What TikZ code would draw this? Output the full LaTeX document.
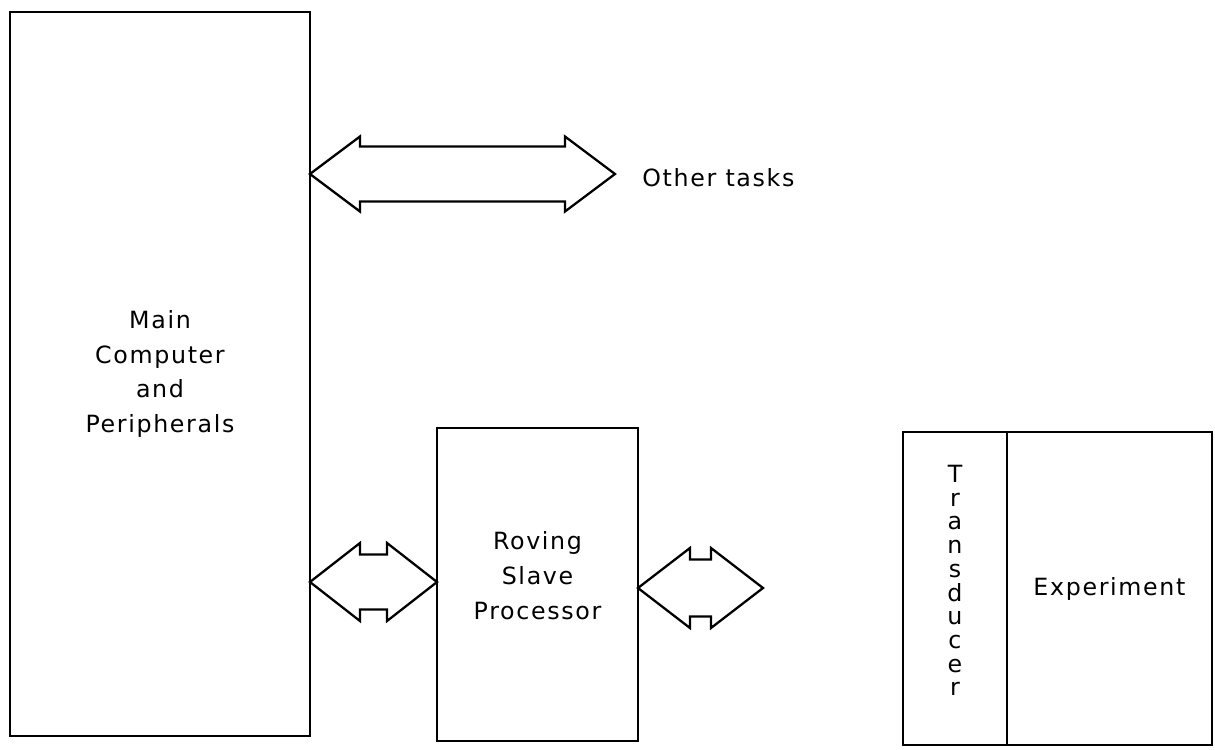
\documentclass[tikz,border=0pt]{standalone}
\usepackage{fontspec}
\setmainfont{DejaVu Sans}[LetterSpace=7]
\usepackage{tikz}
\usetikzlibrary{arrows.meta, positioning, calc}

% double headed block arrow: left tip, right tip, head half height, shaft half height, head length
\newcommand{\dblarrow}[5]{%
  \draw[fatarrow] (#1) -- ++(#5,-#3) -- ++(0,#3-#4) -- ($(#2)+(-#5,-#4)$) -- ++(0,#4-#3) -- (#2)
    -- ++(-#5,#3) -- ++(0,#4-#3) -- ($(#1)+(#5,#4)$) -- ++(0,#3-#4) -- cycle;}

\begin{document}
\begin{tikzpicture}[x=0.02cm, y=-0.02cm,
            blockbox/.style={ rectangle, draw, line width=1.3pt, align=center, inner sep=0pt, outer sep=0pt, font={\fontsize{13.5}{19.8}\selectfont} },
            fatarrow/.style={ draw, line width=1.3pt, line join=miter },
            plaintext/.style={ inner sep=0pt, font={\fontsize{13.5}{19.8}\selectfont} }
        ]
            \useasboundingbox (0,0) rectangle (1215,750);

            % Main node
            \node (main) [blockbox, minimum width=6cm, minimum height=14.48cm] at (160,374) {Main\\Computer\\and\\Peripherals};

            % Slave processor
            \node (slave) [blockbox, minimum width=4.02cm, minimum height=6.26cm] at (537.5,584.5) {Roving\\Slave\\Processor\\[-9.8pt]};

            % Experiment side
            \node (transducer) [blockbox, minimum width=2.08cm, minimum height=6.26cm, font={\fontsize{13.5}{13.5}\selectfont}] at (955,588.5) {T\\r\\a\\n\\s\\d\\u\\c\\e\\r\\[-4.5pt]};
            \node (experiment) [blockbox, minimum width=4.1cm, minimum height=6.26cm, right=0pt of transducer] {Experiment};

            % Other tasks
            \node (tasks) [plaintext, anchor=west] at (642,178) {Other tasks};
            \coordinate (tasksend) at (615,174);
            \coordinate (slaveend) at (763,588);

            % Arrows
            \dblarrow{main.east |- tasksend}{tasksend}{37.5}{27.5}{50}
            \dblarrow{main.east |- 0,582}{slave.west |- 0,582}{39}{27.5}{50}
            \dblarrow{slave.east |- slaveend}{slaveend}{40}{28.5}{52}

        \end{tikzpicture}
\end{document}
